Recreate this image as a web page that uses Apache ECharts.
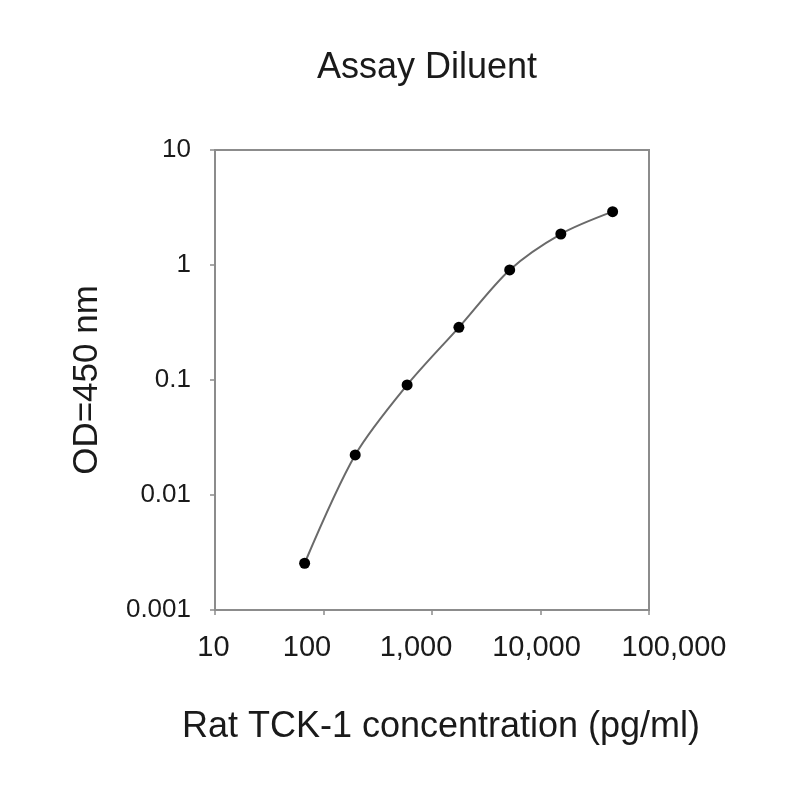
<!DOCTYPE html>
<html>
<head>
<meta charset="utf-8">
<script src="https://cdn.jsdelivr.net/npm/echarts@6/dist/echarts.min.js"></script>
<style>
html,body{margin:0;padding:0;background:#fff;}
#chart{width:800px;height:800px;}
</style>
</head>
<body>
<div id="chart"></div>
<script>
var concentrations = [67, 196, 590, 1770, 5200, 15400, 46200];
var odValues = [0.00255, 0.0223, 0.0906, 0.287, 0.906, 1.86, 2.91];
var xTickLabels = ['10', '100', '1,000', '10,000', '100,000'];
var yTickLabels = ['0.001', '0.01', '0.1', '1', '10'];

var FONT = '"Liberation Sans", Arial, Helvetica, sans-serif';
var AXIS_COLOR = '#8c8c8c';
var TEXT_COLOR = '#1a1a1a';

var chart = echarts.init(document.getElementById('chart'));
var data = concentrations.map(function (c, i) { return [c, odValues[i]]; });

// per-label horizontal nudges to mimic the reference's label placement
var xLabelRich = {
  l0: { padding: [0, 3, 0, 0] },
  l1: { padding: [0, 33, 0, 0] },
  l2: { padding: [0, 32, 0, 0] },
  l3: { padding: [0, 8, 0, 0] },
  l4: { padding: [0, 0, 0, 50] }
};
Object.keys(xLabelRich).forEach(function (k) {
  xLabelRich[k].fontFamily = FONT;
  xLabelRich[k].fontSize = 29;
  xLabelRich[k].color = TEXT_COLOR;
});

chart.setOption({
  backgroundColor: '#fff',
  animation: false,
  title: {
    text: 'Assay Diluent',
    left: 422,
    textAlign: 'center',
    top: 45,
    textStyle: { fontFamily: FONT, fontSize: 36, fontWeight: 'normal', color: TEXT_COLOR }
  },
  grid: {
    left: 215, right: 151, top: 150, bottom: 190,
    show: true, borderColor: AXIS_COLOR, borderWidth: 2, backgroundColor: 'transparent'
  },
  xAxis: {
    type: 'log', logBase: 10, min: 10, max: 100000, splitNumber: 4,
    name: 'Rat TCK-1 concentration (pg/ml)',
    nameLocation: 'middle', nameGap: 99,
    nameTextStyle: { fontFamily: FONT, fontSize: 36, color: TEXT_COLOR, padding: [0, 0, 0, 18] },
    axisLine: { lineStyle: { color: AXIS_COLOR, width: 2 } },
    axisTick: { show: true, length: 5, lineStyle: { color: AXIS_COLOR, width: 1.5 } },
    minorTick: { show: false },
    splitLine: { show: false },
    axisLabel: {
      margin: 23, fontFamily: FONT, fontSize: 29, color: TEXT_COLOR,
      rich: xLabelRich,
      formatter: function (v) {
        var i = Math.round(Math.log10(v)) - 1;
        return '{l' + i + '|' + xTickLabels[i] + '}';
      }
    }
  },
  yAxis: {
    type: 'log', logBase: 10, min: 0.001, max: 10, splitNumber: 4,
    name: 'OD=450 nm',
    nameLocation: 'middle', nameGap: 110,
    nameTextStyle: { fontFamily: FONT, fontSize: 35, color: TEXT_COLOR },
    axisLine: { lineStyle: { color: AXIS_COLOR, width: 2 } },
    axisTick: { show: true, length: 5, lineStyle: { color: AXIS_COLOR, width: 1.5 } },
    minorTick: { show: false },
    splitLine: { show: false },
    axisLabel: {
      margin: 24, fontFamily: FONT, fontSize: 26, color: TEXT_COLOR,
      formatter: function (v) { return yTickLabels[Math.round(Math.log10(v)) + 3]; }
    }
  },
  series: [{
    type: 'line',
    data: data,
    smooth: 0.3,
    symbol: 'circle',
    symbolSize: 11,
    itemStyle: { color: '#000' },
    lineStyle: { color: '#6a6a6a', width: 2 }
  }]
});
</script>
</body>
</html>
